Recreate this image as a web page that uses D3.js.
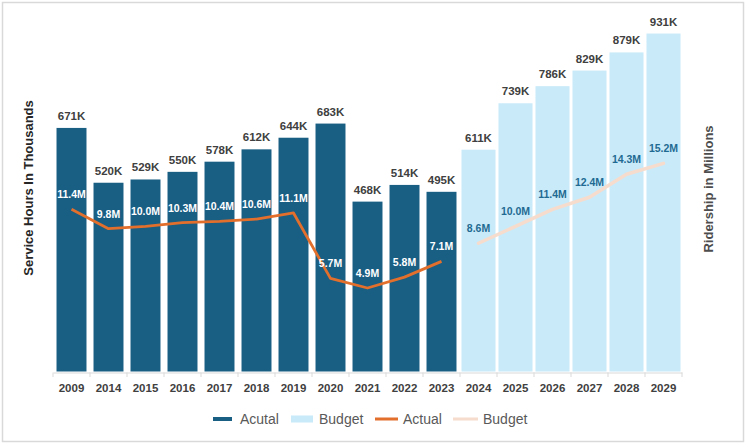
<!DOCTYPE html>
<html><head><meta charset="utf-8">
<script src="https://cdn.jsdelivr.net/npm/d3@7"></script>
<style>
html,body{margin:0;padding:0;background:#fff;}
svg{display:block;font-family:"Liberation Sans",Arial,sans-serif;}
</style></head>
<body><svg id="chart" width="750" height="447"></svg>
<script>
const actualYears = ["2009","2014","2015","2016","2017","2018","2019","2020","2021","2022","2023"];
const budgetYears = ["2024","2025","2026","2027","2028","2029"];
const actualHours = [671,520,529,550,578,612,644,683,468,514,495];
const budgetHours = [611,739,786,829,879,931];
const actualRidership = [11.4,9.8,10.0,10.3,10.4,10.6,11.1,5.7,4.9,5.8,7.1];
const budgetRidership = [8.6,10.0,11.4,12.4,14.3,15.2];
const legendLabels = ["Acutal","Budget","Actual","Budget"];

const colors = {actBar:"#195e83", budBar:"#c9eaf9", actLine:"#e36f2c", budLine:"#f6dccd", budLbl:"#1f6a92"};
const allYears = actualYears.concat(budgetYears);

const svg = d3.select("#chart");
// frame
svg.append("rect").attr("x",2.5).attr("y",2.5).attr("width",741).attr("height",439)
  .attr("fill","#fff").attr("stroke","#d9d9d9").attr("stroke-width",1.5);

const x = d3.scaleBand().domain(allYears).range([53,682]).padding(0);
const yL = d3.scaleLinear().domain([0,1000]).range([371.5,8.5]);
const yR = d3.scaleLinear().domain([-2,28]).range([371.5,8.5]);
const bw = x.bandwidth();

const actData = actualYears.map((y,i)=>({year:y,h:actualHours[i],r:actualRidership[i]}));
const budData = budgetYears.map((y,i)=>({year:y,h:budgetHours[i],r:budgetRidership[i]}));

// bars
const aw = bw*0.81, bbw = bw*0.92;
svg.append("g").selectAll("rect").data(actData).join("rect")
  .attr("x",d=>x(d.year)+(bw-aw)/2).attr("width",aw)
  .attr("y",d=>yL(d.h)).attr("height",d=>yL(0)-yL(d.h)).attr("fill",colors.actBar);
svg.append("g").selectAll("rect").data(budData).join("rect")
  .attr("x",d=>x(d.year)+(bw-bbw)/2).attr("width",bbw)
  .attr("y",d=>yL(d.h)).attr("height",d=>yL(0)-yL(d.h)).attr("fill",colors.budBar);

// x axis
const xAxis = d3.axisBottom(x).tickSize(0).tickPadding(11);
const ax = svg.append("g").attr("transform","translate(0,372.5)").call(xAxis);
ax.select(".domain").attr("stroke","#d9d9d9").attr("stroke-width",1.2);
ax.selectAll("text").attr("font-size","11.5px").attr("font-weight","bold").attr("fill","#404040")
  .attr("font-family","'Liberation Sans',Arial,sans-serif");
// boundary ticks
const bounds = allYears.map(y=>x(y)).concat([x.range()[1]]);
svg.append("g").selectAll("line").data(bounds).join("line")
  .attr("x1",d=>d).attr("x2",d=>d).attr("y1",372.5).attr("y2",377)
  .attr("stroke","#d9d9d9").attr("stroke-width",1);

// bar labels
const allBars = actData.concat(budData);
svg.append("g").selectAll("text").data(allBars).join("text")
  .attr("x",d=>x(d.year)+bw/2).attr("y",d=>yL(d.h)-8)
  .attr("text-anchor","middle").attr("font-size","11.5px").attr("font-weight","bold")
  .attr("fill","#404040").text(d=>d.h+"K");

// lines
const line = d3.line().x(d=>x(d.year)+bw/2).y(d=>yR(d.r));
svg.append("path").datum(actData).attr("d",line).attr("fill","none")
  .attr("stroke",colors.actLine).attr("stroke-width",2.8).attr("stroke-linejoin","round");
svg.append("path").datum(budData).attr("d",line).attr("fill","none")
  .attr("stroke",colors.budLine).attr("stroke-width",3.5).attr("stroke-linecap","round")
  .attr("stroke-linejoin","round");

// line labels
svg.append("g").selectAll("text").data(actData).join("text")
  .attr("x",d=>x(d.year)+bw/2).attr("y",d=>yR(d.r)-11)
  .attr("text-anchor","middle").attr("font-size","10.5px").attr("font-weight","bold")
  .attr("fill","#ffffff").text(d=>d.r.toFixed(1)+"M");
svg.append("g").selectAll("text").data(budData).join("text")
  .attr("x",d=>x(d.year)+bw/2).attr("y",d=>yR(d.r)-11)
  .attr("text-anchor","middle").attr("font-size","10.5px").attr("font-weight","bold")
  .attr("fill",colors.budLbl).text(d=>d.r.toFixed(1)+"M");

// axis titles
svg.append("text").attr("transform","translate(33,188) rotate(-90)")
  .attr("text-anchor","middle").attr("font-size","13px").attr("font-weight","bold")
  .attr("fill","#262626").text("Service Hours In Thousands");
svg.append("text").attr("transform","translate(713,189) rotate(-90)")
  .attr("text-anchor","middle").attr("font-size","13px").attr("font-weight","bold")
  .attr("fill","#4d4d4d").text("Ridership in Millions");

// legend
const lg = svg.append("g").attr("transform","translate(0,419)");
const items = [
  {sx:213,sw:19,sh:4,c:colors.actBar,tx:240},
  {sx:291,sw:22,sh:7,c:colors.budBar,tx:319},
  {sx:375,sw:23,sh:3,c:colors.actLine,tx:403},
  {sx:453,sw:25,sh:3,c:colors.budLine,tx:483}
];
items.forEach((it,i)=>{
  lg.append("rect").attr("x",it.sx).attr("y",-it.sh/2).attr("width",it.sw).attr("height",it.sh).attr("fill",it.c);
  lg.append("text").attr("x",it.tx).attr("y",5).attr("font-size","14px").attr("fill","#595959").text(legendLabels[i]);
});
</script></body></html>
